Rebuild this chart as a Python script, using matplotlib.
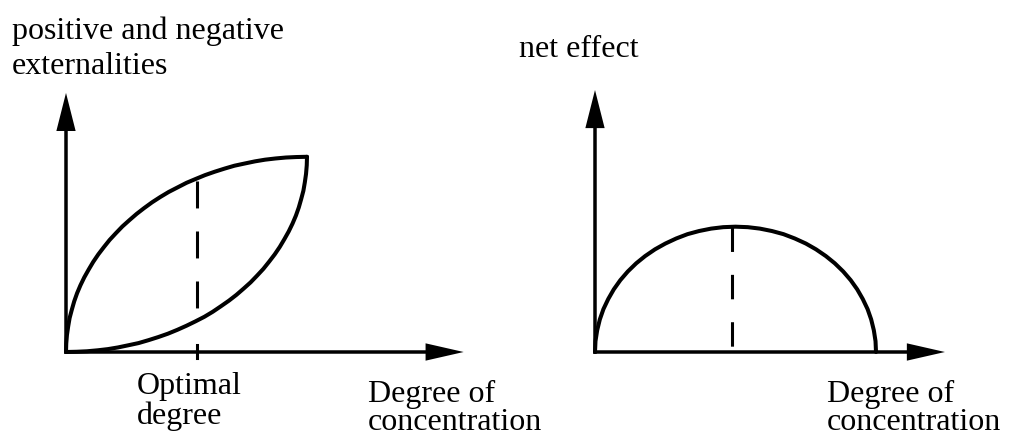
import numpy as np
import matplotlib.pyplot as plt

plt.rcParams['font.family'] = ['Liberation Serif', 'DejaVu Serif']
plt.rcParams['lines.scale_dashes'] = False

# left panel: externalities against degree of concentration
pos_x = [0, 0.01, 0.04, 0.09, 0.15, 0.24, 0.34, 0.46, 0.60, 0.76, 0.94, 1.13,
         1.34, 1.57, 1.81, 2.07, 2.34, 2.63, 2.93, 3.24, 3.57, 3.91, 4.26,
         4.63, 5.00, 5.38, 5.77, 6.17, 6.58, 6.99, 7.41, 7.84, 8.26, 8.69,
         9.13, 9.56, 10.0]
pos_y = [0, 0.35, 0.71, 1.06, 1.41, 1.75, 2.10, 2.44, 2.77, 3.10, 3.42, 3.74,
         4.05, 4.35, 4.65, 4.93, 5.21, 5.47, 5.73, 5.97, 6.21, 6.43, 6.64,
         6.83, 7.02, 7.18, 7.34, 7.48, 7.61, 7.73, 7.82, 7.91, 7.98, 8.03,
         8.07, 8.09, 8.10]
neg_x = [0, 0.44, 0.87, 1.31, 1.74, 2.16, 2.59, 3.01, 3.42, 3.83, 4.23, 4.62,
         5.00, 5.37, 5.74, 6.09, 6.43, 6.76, 7.07, 7.37, 7.66, 7.93, 8.19,
         8.43, 8.66, 8.87, 9.06, 9.24, 9.40, 9.54, 9.66, 9.76, 9.85, 9.91,
         9.96, 9.99, 10.0]
neg_y = [0, 0.01, 0.03, 0.07, 0.12, 0.19, 0.28, 0.37, 0.49, 0.62, 0.76, 0.92,
         1.09, 1.27, 1.46, 1.67, 1.90, 2.13, 2.37, 2.63, 2.89, 3.17, 3.45,
         3.75, 4.05, 4.36, 4.68, 5.00, 5.33, 5.66, 6.00, 6.35, 6.69, 7.04,
         7.39, 7.75, 8.10]
optimal_degree = 5.44

# right panel: net effect
net_x = [0, 0.02, 0.09, 0.20, 0.35, 0.55, 0.78, 1.05, 1.36, 1.71, 2.08, 2.49,
         2.92, 3.37, 3.84, 4.32, 4.82, 5.32, 5.83, 6.34, 6.84, 7.34, 7.82,
         8.29, 8.75, 9.17, 9.58, 9.95, 10.30, 10.61, 10.88, 11.11, 11.31,
         11.46, 11.57, 11.64, 11.66]
net_y = [0, 0.45, 0.90, 1.35, 1.78, 2.20, 2.60, 2.98, 3.34, 3.68, 3.98, 4.26,
         4.50, 4.71, 4.89, 5.02, 5.12, 5.18, 5.20, 5.18, 5.12, 5.02, 4.89,
         4.71, 4.50, 4.26, 3.98, 3.68, 3.34, 2.98, 2.60, 2.20, 1.78,
         1.35, 0.90, 0.45, 0]
net_peak_x = 5.67

W, H = 1010, 436
PX = 24.1  # pixels per data unit
FS = 23

fig = plt.figure(figsize=(W / 100, H / 100), dpi=100)


def make_panel(left_px, width_px, ox, oy):
    # ox, oy: pixel position of the origin, measured from the top-left corner
    ax = fig.add_axes([left_px / W, 0, width_px / W, 1])
    ax.set_xlim(-(ox - left_px) / PX, (left_px + width_px - ox) / PX)
    ax.set_ylim(-(H - oy) / PX, oy / PX)
    ax.axis('off')
    return ax


def draw_axes(ax, x_tip, y_tip):
    kw = dict(width=0.145, head_length=1.58, length_includes_head=True,
              fc='black', ec='black', lw=0)
    ax.arrow(-0.07, 0, x_tip + 0.07, 0, head_width=0.72, **kw)
    ax.arrow(0, -0.07, 0, y_tip + 0.07, head_width=0.80, **kw)


def ftext(x, y, s):
    fig.text(x / W, 1 - y / H, s, fontsize=FS, ha='left', va='baseline')


curve_kw = dict(color='black', lw=2.9, solid_joinstyle='round', solid_capstyle='round')

ax1 = make_panel(0, 505, 66, 352)
draw_axes(ax1, 16.5, 10.75)
ax1.plot(pos_x, pos_y, **curve_kw)
ax1.plot(neg_x, neg_y, **curve_kw)
top = np.interp(optimal_degree, pos_x, pos_y)
bot = np.interp(optimal_degree, neg_x, neg_y)
ax1.plot([optimal_degree, optimal_degree], [top - 0.1, bot + 0.1], color='black',
         lw=2.2, linestyle=(0, (19.4, 16.6)), dash_capstyle='butt')
ax1.plot([optimal_degree, optimal_degree], [-0.25, 0.3], color='black', lw=2.2)

ax2 = make_panel(505, 505, 595, 352)
draw_axes(ax2, 14.52, 10.87)
ax2.plot(net_x, net_y, **curve_kw)
peak = np.interp(net_peak_x, net_x, net_y)
ax2.plot([net_peak_x, net_peak_x], [peak, 0.2], color='black',
         lw=2.2, linestyle=(0, (17.6, 16.5)), dash_capstyle='butt')

ftext(12, 39, 'positive and negative')
ftext(12, 74, 'externalities')
ftext(519, 57, 'net effect')
ftext(137, 394, 'Optimal')
ftext(137, 424, 'degree')
ftext(368, 402, 'Degree of')
ftext(368, 430, 'concentration')
ftext(827, 402, 'Degree of')
ftext(827, 430, 'concentration')

fig.savefig('out.png', dpi=100)
